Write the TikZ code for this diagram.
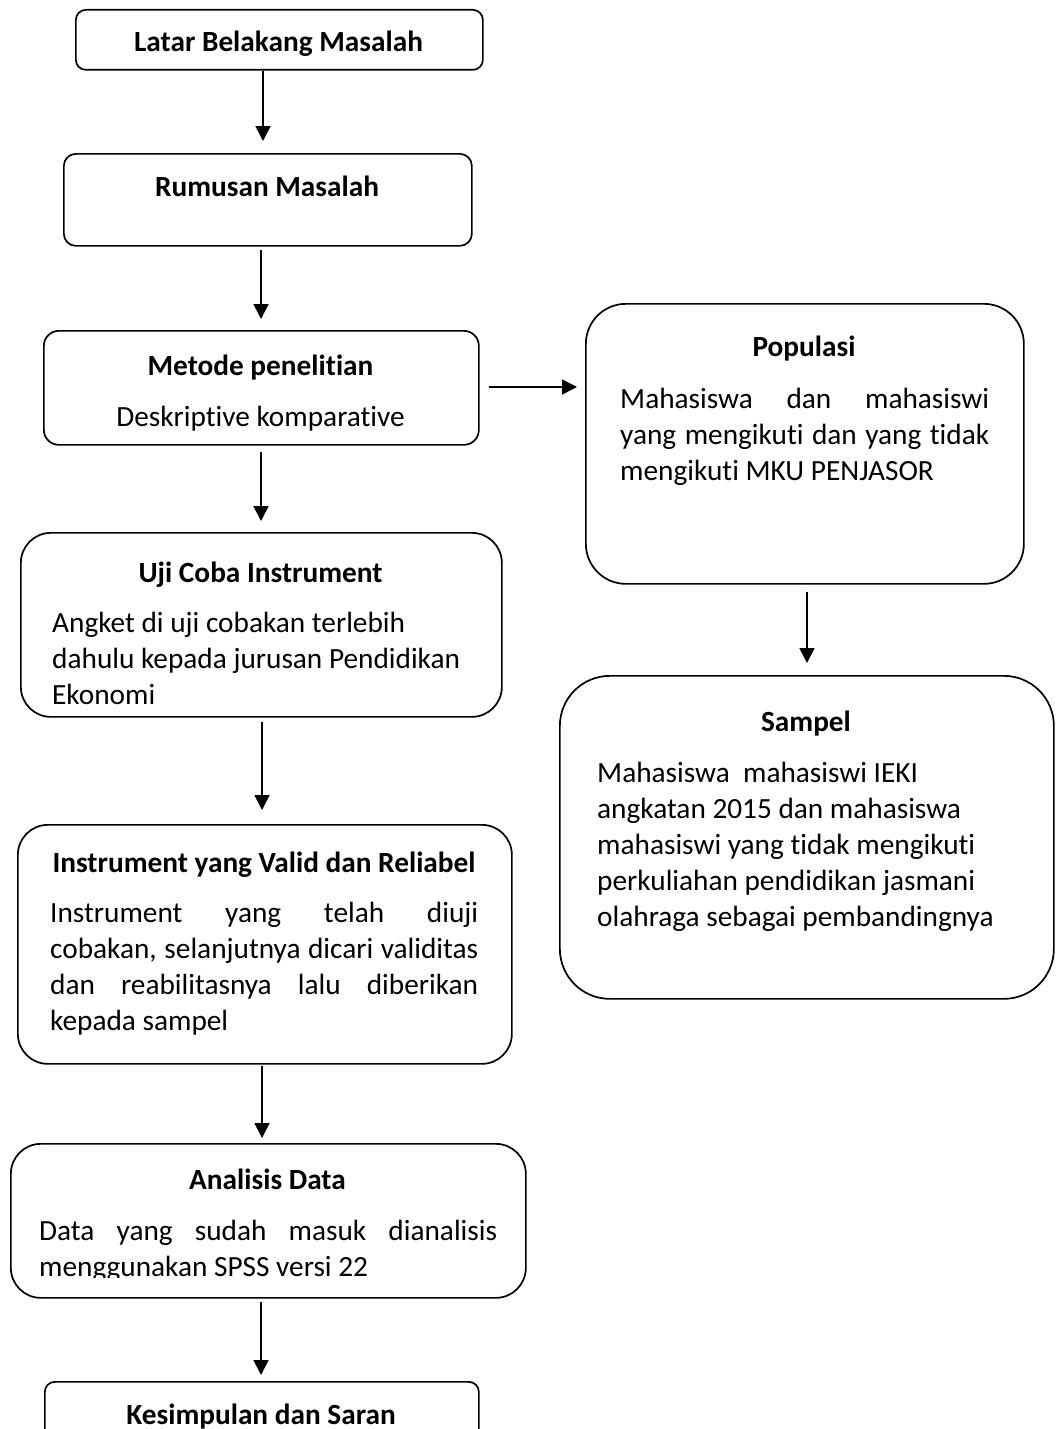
\documentclass[tikz,border=0pt]{standalone}
\usepackage{fontspec}
\setmainfont{Carlito}[RawFeature={-liga;-clig;-dlig}]
\usetikzlibrary{arrows.meta}
\begin{document}
\begin{tikzpicture}[x=1pt,y=-1pt,
  box/.style={draw, line width=1.7pt, rounded corners=#1, anchor=north west, inner sep=0pt},
  box/.default=10pt,
  ttl/.style={font=\bfseries\fontsize{29.3}{36}\selectfont, anchor=base, inner sep=0pt},
  ctr/.style={font=\fontsize{29.3}{36}\selectfont, anchor=base, inner sep=0pt},
  bod/.style={font=\fontsize{29.3}{36}\selectfont, anchor=base west, inner sep=0pt},
  arr/.style={-{Triangle[length=15pt,width=15pt]}, line width=1.6pt}]
\useasboundingbox (0,0) rectangle (1055,1429);
\clip (0,0) rectangle (1055,1429);
% boxes
\node[box=10pt, minimum width=407, minimum height=60] (latar) at (75,9) {};
\node[box=12pt, minimum width=408, minimum height=92] (rumusan) at (63,153) {};
\node[box=15pt, minimum width=435, minimum height=114] (metode) at (43,330) {};
\node[box=40pt, minimum width=438, minimum height=280] (pop) at (585,303) {};
\node[box=50pt, minimum width=494, minimum height=323] (samp) at (559,675) {};
\node[box=30pt, minimum width=481, minimum height=184] (uji) at (20,532) {};
\node[box=30pt, minimum width=494, minimum height=239] (instr) at (17,824) {};
\node[box=30pt, minimum width=515, minimum height=154] (anal) at (10,1143) {};
\node[box=10pt, minimum width=434, minimum height=100] (kes) at (44,1381) {};
% texts
\node[ttl] (latar-t) at (278.5,52) {Latar Belakang Masalah};
\node[ttl] (rumusan-t) at (267,196) {Rumusan Masalah};
\node[ttl] (metode-t) at (260.5,375) {Metode penelitian};
\node[ctr] (metode-b) at (260.5,426) {Deskriptive komparative};
\node[ttl] (pop-t) at (804,356) {Populasi};
\node[bod] (pop-1) at (620,408) {\makebox[369pt][s]{Mahasiswa dan mahasiswi}};
\node[bod] (pop-2) at (620,444) {\makebox[369pt][s]{yang mengikuti dan yang tidak}};
\node[bod] (pop-3) at (620,480) {mengikuti MKU PENJASOR};
\node[ttl] (samp-t) at (806,731) {Sampel};
\node[bod] (samp-1) at (597,782) {Mahasiswa~ mahasiswi IEKI};
\node[bod] (samp-2) at (597,818) {angkatan 2015 dan mahasiswa};
\node[bod] (samp-3) at (597,854) {mahasiswi yang tidak mengikuti};
\node[bod] (samp-4) at (597,890) {perkuliahan pendidikan jasmani};
\node[bod] (samp-5) at (597,926) {olahraga sebagai pembandingnya};
\node[ttl] (uji-t) at (260.5,582) {Uji Coba Instrument};
\node[bod] (uji-1) at (52,632) {Angket di uji cobakan terlebih};
\node[bod] (uji-2) at (52,668) {dahulu kepada jurusan Pendidikan};
\node[bod] (uji-3) at (52,704) {Ekonomi};
\node[ttl] (instr-t) at (264,872) {Instrument yang Valid dan Reliabel};
\node[bod] (instr-1) at (50,922) {\makebox[428pt][s]{Instrument yang telah diuji}};
\node[bod] (instr-2) at (50,958) {\makebox[428pt][s]{cobakan, selanjutnya dicari validitas}};
\node[bod] (instr-3) at (50,994) {\makebox[428pt][s]{dan reabilitasnya lalu diberikan}};
\node[bod] (instr-4) at (50,1030) {kepada sampel};
\node[ttl] (anal-t) at (267.5,1189) {Analisis Data};
\begin{scope}
\clip (0,1150) rectangle (1055,1277);
\node[bod] (anal-1) at (39,1240) {\makebox[458pt][s]{Data yang sudah masuk dianalisis}};
\node[bod] (anal-2) at (39,1276) {menggunakan SPSS versi 22};
\end{scope}
\node[ttl] (kes-t) at (261,1424) {Kesimpulan dan Saran};
% connector columns
\coordinate (c263) at (263,0);
\coordinate (c261) at (261,0);
\coordinate (c262) at (262,0);
\coordinate (c807) at (807,0);
\coordinate (r387) at (0,387);
% arrows
\draw[arr, shorten >=12pt] (latar.south -| c263) -- (rumusan.north -| c263);
\draw[arr, shorten <=3pt, shorten >=11pt] (rumusan.south -| c261) -- (metode.north -| c261);
\draw[arr, shorten <=6pt, shorten >=11pt] (metode.south -| c261) -- (uji.north -| c261);
\draw[arr, shorten <=4pt, shorten >=14pt] (uji.south -| c262) -- (instr.north -| c262);
\draw[arr, shorten <=1pt, shorten >=5pt] (instr.south -| c262) -- (anal.north -| c262);
\draw[arr, shorten <=3pt, shorten >=6pt] (anal.south -| c261) -- (kes.north -| c261);
\draw[arr, shorten <=7pt, shorten >=12pt] (pop.south -| c807) -- (samp.north -| c807);
\draw[arr, shorten <=9pt, shorten >=8pt] (metode.east |- r387) -- (pop.west |- r387);
\end{tikzpicture}
\end{document}
